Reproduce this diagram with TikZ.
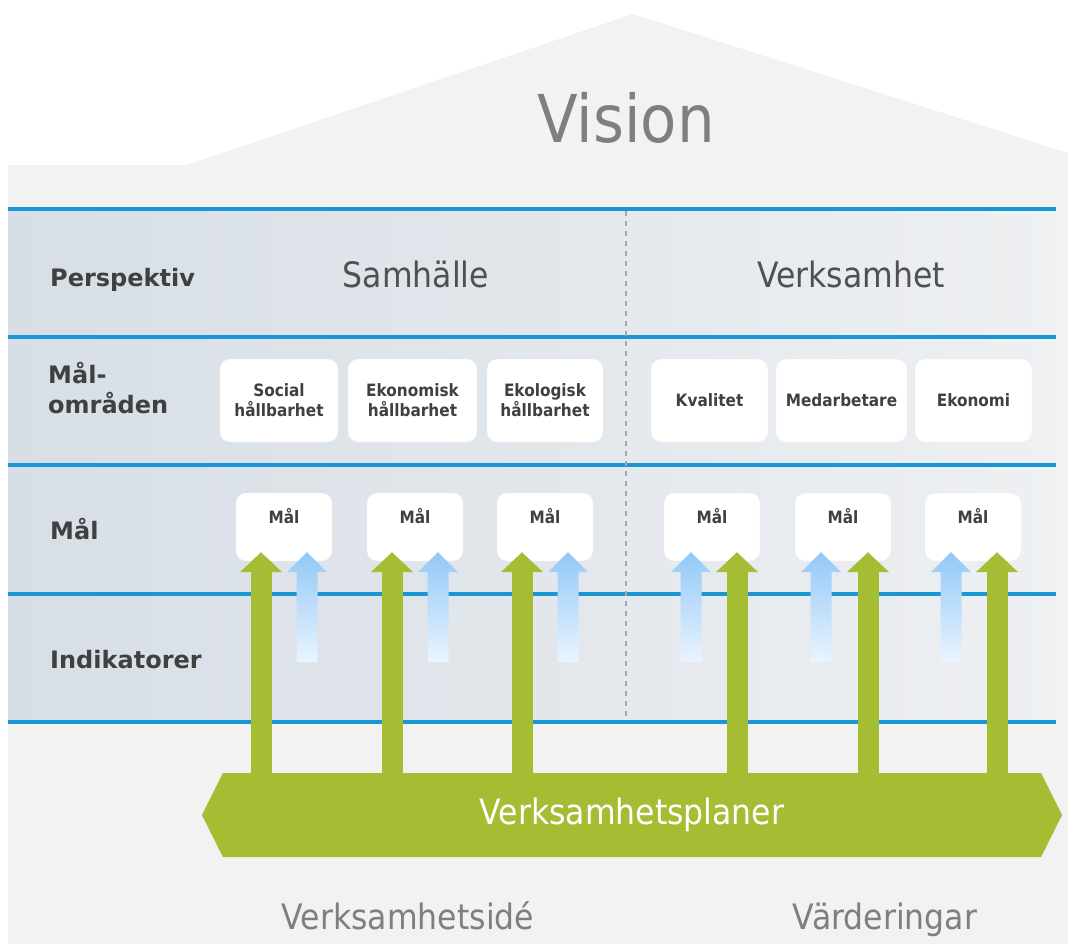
\documentclass[tikz,border=0pt]{standalone}
\usepackage{fontspec}
\setmainfont{DejaVu Sans}
\newfontfamily\condfont[FakeStretch=0.9]{DejaVu Sans}
\usetikzlibrary{arrows.meta,shapes.symbols}

\definecolor{housegray}{HTML}{F2F2F2}
\definecolor{bandleft}{HTML}{D7DEE6}
\definecolor{bandright}{HTML}{EEF0F2}
\definecolor{lineblue}{HTML}{1A96D4}
\definecolor{leafgreen}{HTML}{A4BD32}
\definecolor{skytop}{HTML}{92C8F8}
\definecolor{skybot}{HTML}{EAF4FE}
\definecolor{labelgray}{HTML}{404040}
\definecolor{titlegray}{HTML}{7F7F7F}
\definecolor{headgray}{HTML}{505050}

\tikzset{
  rowlabel/.style = {inner sep=0, text=labelgray, font=\fontsize{24}{30}\selectfont\bfseries, align=left},
  areabox/.style = {draw=black!7, fill=white, rounded corners=10pt, minimum height=83pt, inner sep=0, text=labelgray, font=\condfont\fontsize{17}{20}\selectfont\bfseries, align=center},
  malbox/.style = {draw=black!7, fill=white, rounded corners=10pt, minimum width=96pt, inner sep=0, text height=30pt, text depth=38pt, anchor=base, text=labelgray, font=\condfont\fontsize{17}{20}\selectfont\bfseries},
  bigtext/.style = {anchor=base, inner sep=0, text=headgray, font=\condfont\fontsize{35}{42}\selectfont},
  greenup/.style = {draw=leafgreen, line width=21pt, shorten >=-9pt, -{Triangle[width=41pt,length=20pt]}},
  blueup/.pic = {\shade[top color=skytop, bottom color=skybot] (0,-9) -- (20,11) -- (10.5,11) -- (10.5,101) -- (-10.5,101) -- (-10.5,11) -- (-20,11) -- cycle;},
  bandline/.style = {draw=lineblue, line width=4.5pt},
}

\begin{document}
\begin{tikzpicture}[x = 1pt, y = -1pt]
\fill[white] (0,0) rectangle (1068,944);
\useasboundingbox (0,0) rectangle (1068,944);
% house and roof
\fill[housegray] (8,944) -- (8,165) -- (187,165) -- (633,14) -- (1068,153) -- (1068,944) -- cycle;
\shade[left color=bandleft, right color=bandright] (8,209) rectangle (1056,722);
\foreach \y in {209,337,465,594,722}
  \draw[bandline] (8,\y) -- (1056,\y);
\draw[color = black!35, line width=1.2pt, dash pattern=on 5pt off 5pt] (626,211) -- (626,720);

\node[anchor=base, inner sep=0, text=titlegray, font=\condfont\fontsize{66}{70}\selectfont] (vision) at (626,143) {Vision};

% row labels
\node[rowlabel, anchor=base west] (persp) at (50,286) {Perspektiv};
\node[rowlabel, anchor=west] (omr) at (48,388) {Mål-\\områden};
\node[rowlabel, anchor=base west] (malrow) at (50,539) {Mål};
\node[rowlabel, anchor=base west] (indik) at (50,668) {Indikatorer};

\node[bigtext] (samh) at (416,287) {Samhälle};
\node[bigtext] (verks) at (851,287) {Verksamhet};

% goal areas
\node[areabox, minimum width=118pt] (soc) at (279,400.5) {Social\\hållbarhet};
\node[areabox, minimum width=129pt] (ekon) at (412.5,400.5) {Ekonomisk\\hållbarhet};
\node[areabox, minimum width=116pt] (ekol) at (545,400.5) {Ekologisk\\hållbarhet};
\node[areabox, minimum width=117pt] (kval) at (709.5,400.5) {Kvalitet};
\node[areabox, minimum width=131pt] (medarb) at (841.5,400.5) {Medarbetare};
\node[areabox, minimum width=117pt] (ekonomi) at (973.5,400.5) {Ekonomi};

% goals
\foreach \i/\x in {1/284, 2/415, 3/545, 4/712, 5/843, 6/973}
  \node[malbox] (mal\i) at (\x,523) {Mål};

\node[shape=signal, signal to=west and east, signal pointer angle=127, fill=leafgreen,
  minimum width=860pt, minimum height=84pt, inner sep=0, text=white,
  font=\condfont\fontsize{35}{42}\selectfont] (plan) at (632,815) {Verksamhetsplaner};

% arrows up to the goals
\foreach \i/\g/\b in {1/-23/23, 2/-23/23, 3/-23/23, 4/25/-21, 5/25/-22, 6/24/-22} {
  \draw[greenup] ([xshift=\g pt]mal\i.south |- plan.north) -- ([xshift=\g pt]mal\i.south);
  \pic at ([xshift=\b pt]mal\i.south) {blueup};
}

\node[bigtext, text=titlegray] (idea) at (408,929) {Verksamhetsidé};
\node[bigtext, text=titlegray] (values) at (885,929) {Värderingar};
\end{tikzpicture}
\end{document}
